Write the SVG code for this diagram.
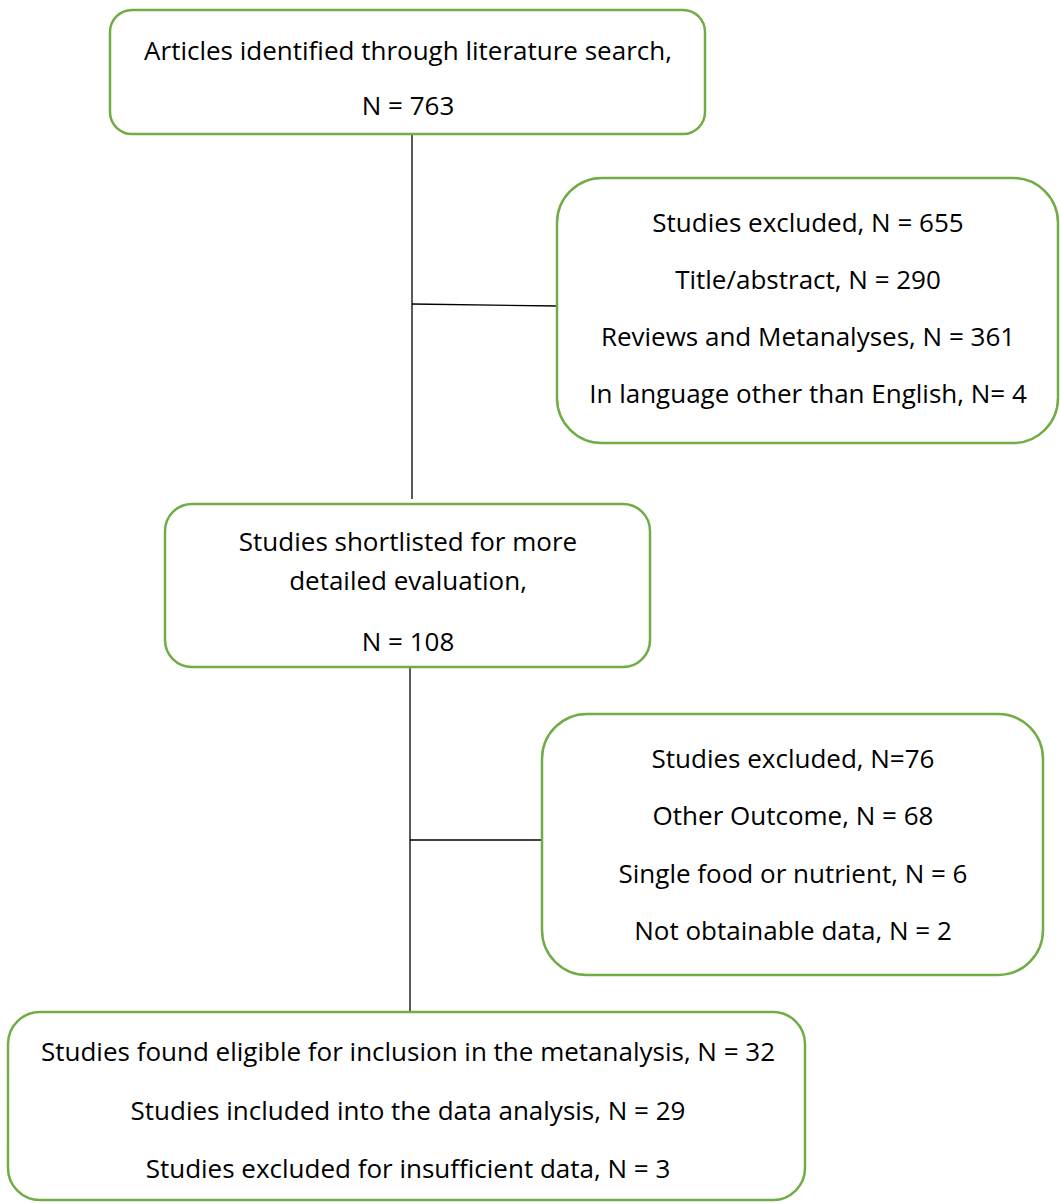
<svg xmlns="http://www.w3.org/2000/svg" width="1060" height="1203" viewBox="0 0 1060 1203">
<style>
.box{fill:#fff;stroke:#70AD47;stroke-width:2.5}
.t{font-family:"Open Sans","Liberation Sans",sans-serif;font-size:26px;fill:#000;text-anchor:middle}
.c{stroke:#000;stroke-width:1.3;fill:none}
</style>
<rect width="1060" height="1203" fill="#fff"/>
<g id="connectors">
<line class="c" x1="412" y1="134" x2="412" y2="499"/>
<line class="c" x1="412" y1="304" x2="557" y2="306"/>
<line class="c" x1="410" y1="667" x2="410" y2="1012"/>
<line class="c" x1="410" y1="840" x2="542" y2="840"/>
</g>
<g id="n1">
<rect class="box" x="110" y="10" width="595" height="124" rx="22"/>
<text class="t" x="408" y="60">Articles identified through literature search,</text>
<text class="t" x="408" y="115">N = 763</text>
</g>
<g id="n2">
<rect class="box" x="557" y="178" width="501" height="265" rx="45"/>
<text class="t" x="808" y="232">Studies excluded, N = 655</text>
<text class="t" x="808" y="289">Title/abstract, N = 290</text>
<text class="t" x="808" y="346">Reviews and Metanalyses, N = 361</text>
<text class="t" x="808" y="403">In language other than English, N= 4</text>
</g>
<g id="n3">
<rect class="box" x="165" y="504" width="485" height="163" rx="27"/>
<text class="t" x="408" y="551">Studies shortlisted for more</text>
<text class="t" x="408" y="590">detailed evaluation,</text>
<text class="t" x="408" y="651">N = 108</text>
</g>
<g id="n4">
<rect class="box" x="542" y="714" width="501" height="261" rx="45"/>
<text class="t" x="793" y="768">Studies excluded, N=76</text>
<text class="t" x="793" y="825">Other Outcome, N = 68</text>
<text class="t" x="793" y="883">Single food or nutrient, N = 6</text>
<text class="t" x="793" y="940">Not obtainable data, N = 2</text>
</g>
<g id="n5">
<rect class="box" x="8" y="1012" width="797" height="188" rx="32"/>
<text class="t" x="408" y="1061">Studies found eligible for inclusion in the metanalysis, N = 32</text>
<text class="t" x="408" y="1120">Studies included into the data analysis, N = 29</text>
<text class="t" x="408" y="1178">Studies excluded for insufficient data, N = 3</text>
</g>
</svg>
